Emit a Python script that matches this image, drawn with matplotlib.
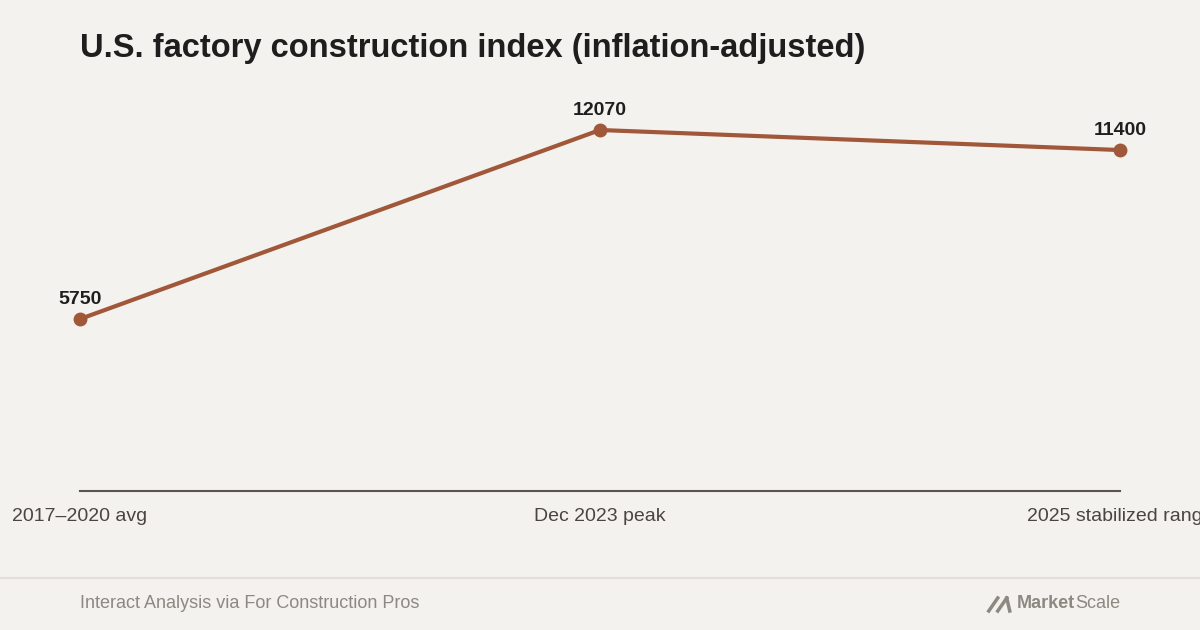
import matplotlib
matplotlib.use("Agg")
import matplotlib.pyplot as plt
from matplotlib.lines import Line2D

# data
categories = ["2017\u20132020 avg", "Dec 2023 peak", "2025 stabilized range"]
values = [5750, 12070, 11400]

title = "U.S. factory construction index (inflation-adjusted)"
source = "Interact Analysis via For Construction Pros"

bg = "#F4F2EE"
line_color = "#A0573A"
text_dark = "#1E1E1E"
axis_color = "#5A554F"
muted = "#8C8882"

plt.rcParams["font.family"] = ["Liberation Sans", "DejaVu Sans"]

W, H = 1200, 630
fig = plt.figure(figsize=(12, 6.3), dpi=100, facecolor=bg)

# plot area: x from 80 to 1120 px, baseline at y=491 px
ax = fig.add_axes([80 / W, (H - 491) / H, 1040 / W, (491 - 100) / H])
ax.set_facecolor(bg)

x = list(range(len(categories)))
ax.plot(x, values, color=line_color, linewidth=3, marker="o", markersize=9,
        clip_on=False, zorder=3)

for xi, v in zip(x, values):
    ax.annotate(f"{v}", (xi, v), xytext=(0, 8), textcoords="offset points",
                ha="center", va="bottom", fontsize=14, fontweight="bold",
                color=text_dark)

ax.set_xlim(0, len(categories) - 1)
ax.set_ylim(0, 12070 * 391 / 361)

for side in ["top", "right", "left"]:
    ax.spines[side].set_visible(False)
ax.spines["bottom"].set_color(axis_color)
ax.spines["bottom"].set_linewidth(1.5)
ax.set_yticks([])
ax.set_xticks(x)
ax.set_xticklabels(categories, fontsize=14, color="#4A4540")
ax.tick_params(axis="x", length=0, pad=12)

fig.text(80 / W, 1 - 49 / H, title, fontsize=23.5, fontweight="bold",
         color=text_dark, va="center", ha="left")

# footer rule and source
fig.add_artist(Line2D([0, 1], [1 - 578 / H, 1 - 578 / H],
                      transform=fig.transFigure, color="#E2DFDA", linewidth=1.5))
fig.text(80 / W, 1 - 603 / H, source, fontsize=13, color=muted,
         va="center", ha="left")

# MarketScale wordmark
t1 = fig.text(1 - 80 / W, 1 - 604 / H, "Scale", fontsize=13, color=muted,
              va="center", ha="right")
fig.canvas.draw()
bb = t1.get_window_extent()
t2 = fig.text(bb.x0 / W, 1 - 604 / H, "Market", fontsize=13, color=muted,
              fontweight="bold", va="center", ha="right")
fig.canvas.draw()
bb2 = t2.get_window_extent()
# small slanted mark left of the wordmark
x0 = bb2.x0 - 28
for dx in (0, 9):
    fig.add_artist(Line2D([(x0 + dx) / W, (x0 + dx + 9) / W],
                          [1 - 611 / H, 1 - 598 / H],
                          transform=fig.transFigure, color=muted, linewidth=2.5))
fig.add_artist(Line2D([(x0 + 18) / W, (x0 + 21) / W],
                      [1 - 598 / H, 1 - 611 / H],
                      transform=fig.transFigure, color=muted, linewidth=2.5))

fig.savefig("out.png", dpi=100, facecolor=bg)
